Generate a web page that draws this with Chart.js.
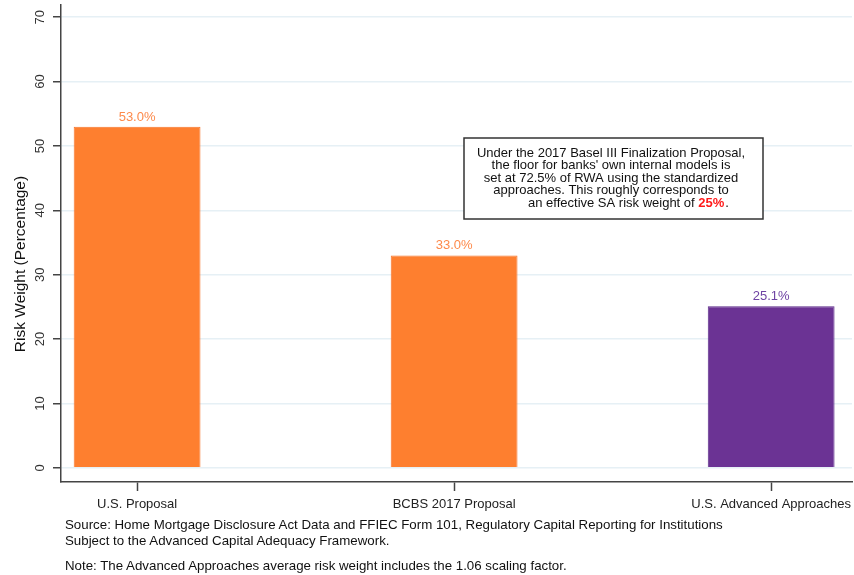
<!DOCTYPE html>
<html>
<head>
<meta charset="utf-8">
<script src="https://cdn.jsdelivr.net/npm/chart.js@4.4.1/dist/chart.umd.min.js"></script>
<style>
  body { margin: 0; background: #fff; }
  #wrap { position: relative; width: 854px; height: 575px; }
  .note {
    position: absolute;
    left: 65px;
    font: 13.3px "Liberation Sans", Arial, sans-serif;
    line-height: 16px;
    color: #111;
    white-space: nowrap;
  }
</style>
</head>
<body>
<div id="wrap">
  <canvas id="riskChart" width="854" height="575"></canvas>
  <div class="note" style="top:517px">Source: Home Mortgage Disclosure Act Data and FFIEC Form 101, Regulatory Capital Reporting for Institutions</div>
  <div class="note" style="top:533px">Subject to the Advanced Capital Adequacy Framework.</div>
  <div class="note" style="top:558px">Note: The Advanced Approaches average risk weight includes the 1.06 scaling factor.</div>
</div>
<script>
const categories = ["U.S. Proposal", "BCBS 2017 Proposal", "U.S. Advanced Approaches"];
const riskWeights = [53.0, 33.0, 25.1];
const barColors = ["#fe7f2f", "#fe7f2f", "#6b3394"];
const barBorders = ["#f7742a", "#f7742a", "#5b2a88"];
const labelColors = ["#fd8a4b", "#fd8a4b", "#6e43a3"];
const yTicks = [0, 10, 20, 30, 40, 50, 60, 70];

const boxLines = [
  "Under the 2017 Basel III Finalization Proposal,",
  "the floor for banks' own internal models is",
  "set at 72.5% of RWA using the standardized",
  "approaches. This roughly corresponds to"
];

const FONT = "'Liberation Sans', Arial, sans-serif";

// value labels, y axis title and the text box
const extras = {
  id: "extras",
  afterDatasetsDraw(chart) {
    const ctx = chart.ctx;
    const meta = chart.getDatasetMeta(0);
    ctx.save();
    ctx.font = "13px " + FONT;
    ctx.textAlign = "center";
    ctx.textBaseline = "bottom";
    meta.data.forEach((bar, i) => {
      ctx.fillStyle = labelColors[i];
      ctx.fillText(riskWeights[i].toFixed(1) + "%", bar.x, bar.y - 3);
    });

    // axis title
    ctx.save();
    ctx.translate(21, 264);
    ctx.rotate(-Math.PI / 2);
    ctx.fillStyle = "#111";
    ctx.font = "15.5px " + FONT;
    ctx.textBaseline = "middle";
    ctx.fillText("Risk Weight (Percentage)", 0, 0);
    ctx.restore();

    // note box
    ctx.fillStyle = "#fff";
    ctx.fillRect(464, 138, 299, 81);
    ctx.strokeStyle = "#333";
    ctx.lineWidth = 1.5;
    ctx.strokeRect(464, 138, 299, 81);
    ctx.fillStyle = "#111";
    ctx.font = "13px " + FONT;
    ctx.textBaseline = "middle";
    boxLines.forEach((line, i) => {
      ctx.fillText(line, 611, 153 + i * 12.6);
    });
    ctx.textAlign = "left";
    let x = 528;
    const y = 153 + 4 * 12.6;
    const part1 = "an effective SA risk weight of ";
    ctx.fillText(part1, x, y);
    x += ctx.measureText(part1).width;
    ctx.font = "bold 13px " + FONT;
    ctx.fillStyle = "#ff1a1a";
    ctx.fillText("25%", x, y);
    x += ctx.measureText("25%").width;
    ctx.font = "13px " + FONT;
    ctx.fillStyle = "#111";
    ctx.fillText(".", x + 1, y);
    ctx.restore();
  }
};

// keep the plot edges fixed, no extra room for edge labels
function noEdgePadding(s) {
  s.paddingTop = 0;
  s.paddingBottom = 0;
  s.paddingLeft = 0;
  s.paddingRight = 0;
}

new Chart(document.getElementById("riskChart"), {
  type: "bar",
  data: {
    datasets: [{
      data: riskWeights.map((v, i) => ({ x: i + 1, y: v })),
      backgroundColor: barColors,
      borderColor: barBorders,
      borderWidth: 1,
      barPercentage: 1,
      categoryPercentage: 0.4
    }]
  },
  options: {
    responsive: false,
    animation: false,
    layout: { padding: { top: 5, right: 2, bottom: 59, left: 0 } },
    plugins: {
      legend: { display: false },
      tooltip: { enabled: false }
    },
    scales: {
      x: {
        type: "linear",
        offset: false,
        min: 0.76,
        max: 3.255,
        afterBuildTicks: (s) => { s.ticks = categories.map((c, i) => ({ value: i + 1 })); },
        afterFit: (s) => { s.height = 34; noEdgePadding(s); },
        ticks: {
          callback: (v) => categories[v - 1],
          color: "#222",
          font: { size: 13, family: FONT },
          padding: 6,
          maxRotation: 0
        },
        grid: { offset: false, drawOnChartArea: false, tickLength: 9, tickColor: "#444", tickWidth: 1.5 },
        border: { color: "#444", width: 1.5 }
      },
      y: {
        min: -2.2,
        max: 71.9,
        afterBuildTicks: (s) => { s.ticks = yTicks.map((v) => ({ value: v })); },
        afterFit: (s) => { s.width = 61; noEdgePadding(s); },
        ticks: {
          minRotation: 90,
          maxRotation: 90,
          crossAlign: "center",
          color: "#333",
          font: { size: 13, family: FONT },
          padding: 5
        },
        grid: { color: "#e6f0f5", lineWidth: 1.5, tickLength: 8, tickColor: "#444", tickWidth: 1.5 },
        border: { color: "#444", width: 1.5 }
      }
    }
  },
  plugins: [extras]
});
</script>
</body>
</html>
